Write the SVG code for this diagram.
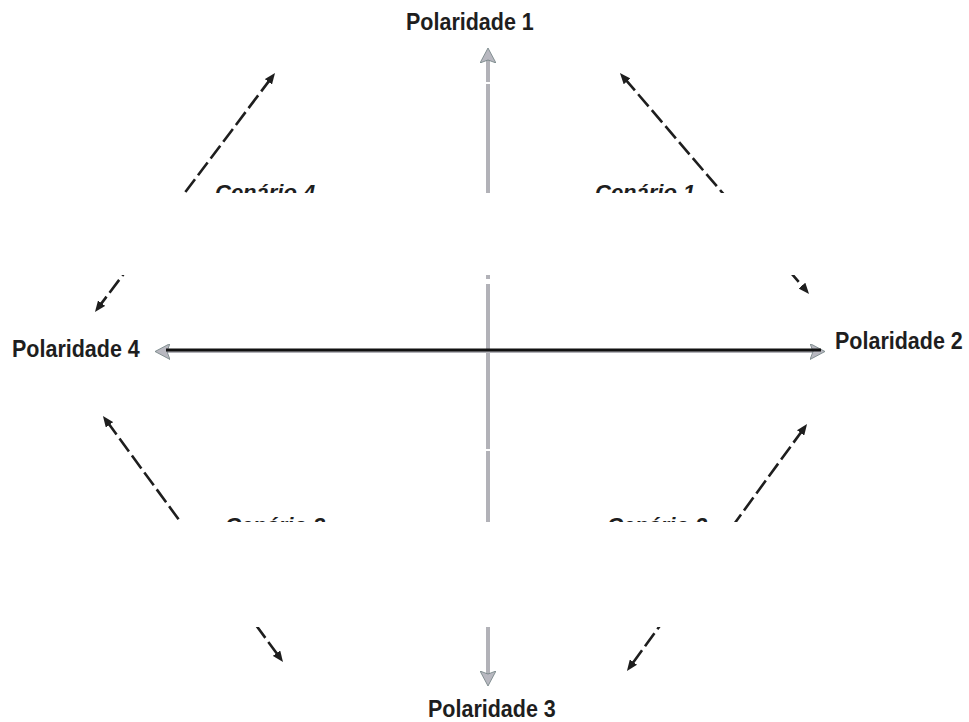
<svg xmlns="http://www.w3.org/2000/svg" width="969" height="722" viewBox="0 0 969 722">
<style>
.pol{font-family:"Liberation Sans",Arial,sans-serif;font-weight:bold;font-size:21.5px;fill:#1e1e1e}
.cen{font-family:"Liberation Sans",Arial,sans-serif;font-weight:bold;font-style:italic;font-size:22px;fill:#1e1e1e}
.axis{stroke:#b2b2b8;stroke-width:4;fill:none}
.diag{stroke:#1e1e1e;stroke-width:2.6;stroke-dasharray:16 5;fill:none;marker-start:url(#dh);marker-end:url(#dh)}
</style>
<defs>
<marker id="gh" markerUnits="userSpaceOnUse" viewBox="0 0 15 16" markerWidth="15" markerHeight="16" refX="5" refY="8" orient="auto-start-reverse">
<path d="M0,0 L15,8 L0,16 L3,8 Z" fill="#b8b8c0" stroke="#6f7f80" stroke-width="0.8"/>
</marker>
<marker id="dh" markerUnits="userSpaceOnUse" viewBox="0 0 11 9" markerWidth="11" markerHeight="9" refX="4" refY="4.5" orient="auto-start-reverse">
<path d="M0,0 L11,4.5 L0,9 Z" fill="#1e1e1e"/>
</marker>
<clipPath id="bands">
<rect x="0" y="0" width="969" height="193"/>
<rect x="0" y="275" width="969" height="247"/>
<rect x="0" y="627" width="969" height="95"/>
</clipPath>
<clipPath id="vgap">
<rect x="0" y="0" width="969" height="82"/>
<rect x="0" y="84" width="969" height="109"/>
<rect x="0" y="275" width="969" height="4"/>
<rect x="0" y="284" width="969" height="165"/>
<rect x="0" y="451" width="969" height="71"/>
<rect x="0" y="627" width="969" height="95"/>
</clipPath>
</defs>
<g id="connectors">
<line id="axis-v" class="axis" x1="488" y1="58" x2="488" y2="676" marker-start="url(#gh)" marker-end="url(#gh)" clip-path="url(#vgap)"/>
<line id="axis-h" class="axis" style="stroke-width:3" x1="165" y1="351.5" x2="815" y2="351.5" marker-start="url(#gh)" marker-end="url(#gh)"/>
<line id="axis-h-black" x1="166" y1="350" x2="821" y2="350" stroke="#111" stroke-width="3"/>
<g clip-path="url(#bands)">
<line class="diag" x1="270.8" y1="78.6" x2="99.2" y2="306.4"/>
<line class="diag" x1="624.5" y1="78.3" x2="804.5" y2="288.7"/>
<line class="diag" x1="107.1" y1="421.6" x2="278.9" y2="656.4"/>
<line class="diag" x1="802.9" y1="429.7" x2="631.1" y2="665.3"/>
</g>
</g>
<g id="polaridade-1"><text class="pol" transform="translate(406,30) scale(1,1.15)">Polaridade 1</text></g>
<g id="polaridade-2"><text class="pol" transform="translate(835,349) scale(1,1.15)">Polaridade 2</text></g>
<g id="polaridade-3"><text class="pol" transform="translate(428,717) scale(1,1.15)">Polaridade 3</text></g>
<g id="polaridade-4"><text class="pol" transform="translate(12,357) scale(1,1.15)">Polaridade 4</text></g>
<g clip-path="url(#bands)">
<g id="cenario-4"><text class="cen" x="215" y="200">Cenário 4</text></g>
<g id="cenario-1"><text class="cen" x="595" y="200">Cenário 1</text></g>
<g id="cenario-3"><text class="cen" x="225" y="533">Cenário 3</text></g>
<g id="cenario-2"><text class="cen" x="607" y="533">Cenário 2</text></g>
</g>
</svg>
